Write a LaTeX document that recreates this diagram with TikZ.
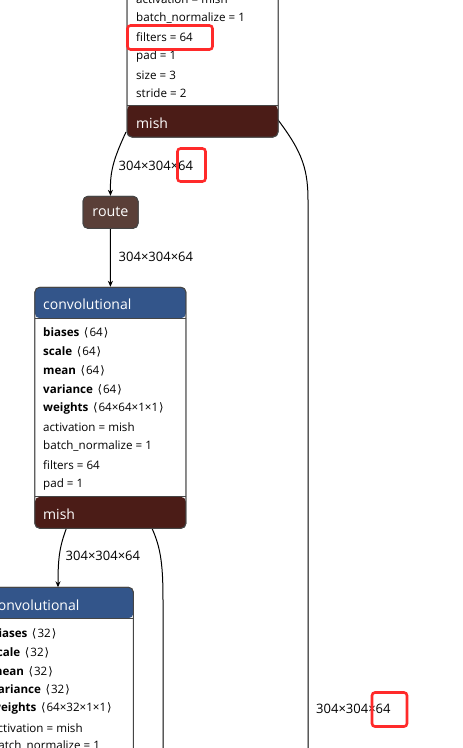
\documentclass[tikz,border=0pt]{standalone}
\usepackage{fontspec}
\setmainfont{Open Sans}
\newfontfamily\symf{DejaVu Sans}
\usetikzlibrary{arrows.meta}
\definecolor{headblue}{HTML}{33558A}
\definecolor{actred}{HTML}{4B1C17}
\definecolor{routebrown}{HTML}{5A3F38}
\definecolor{cardline}{HTML}{454545}
\definecolor{hlred}{HTML}{FF2A2A}
\newcommand{\lab}{\hspace{1.5pt}{\symf ⟨}\hspace{1pt}}
\newcommand{\rab}{\hspace{1pt}{\symf ⟩}}
\begin{document}
\begin{tikzpicture}[x=1pt,y=-1pt,
  card/.style 2 args={draw=cardline, line width=1pt, rounded corners=5pt, fill=white, inner sep=0pt, minimum width=151pt,
    path picture={
      \fill[headblue] (path picture bounding box.north west) rectangle ([yshift=-#1]path picture bounding box.north east);
      \fill[actred] ([yshift=#2]path picture bounding box.south west) rectangle (path picture bounding box.south east);
      \draw[cardline,line width=0.8pt] ([yshift=-#1]path picture bounding box.north west) -- ([yshift=-#1]path picture bounding box.north east);
      \draw[cardline,line width=0.8pt] ([yshift=#2]path picture bounding box.south west) -- ([yshift=#2]path picture bounding box.south east);
    }},
  routebox/.style={draw=cardline, line width=1pt, rounded corners=5pt, fill=routebrown, inner sep=0pt, minimum width=55pt, minimum height=32pt, text=white, font=\fontsize{14.3}{16}\selectfont},
  attr/.style={anchor=west, inner sep=0pt, text=black, font=\fontsize{11.6}{13}\selectfont},
  htext/.style={anchor=west, inner sep=0pt, text=white, font=\fontsize{14}{16}\selectfont},
  elabel/.style={anchor=west, inner sep=0pt, text=black, font=\fontsize{13}{15}\selectfont},
  edge/.style={draw=black, line width=1pt, -{Stealth[length=6pt,width=5pt]}},
  plainedge/.style={draw=black, line width=1pt},
  hl/.style={draw=hlred, line width=2.6pt, rounded corners=3pt, inner sep=0pt}
]
\useasboundingbox (0,0) rectangle (463,748);
\fill[white] (0,0) rectangle (463,748);

% free ends of connectors
\coordinate (e1end) at (308,760);
\coordinate (e2end) at (163,760);
\coordinate (t1) at (126,132);
\coordinate (t2) at (272,112);
\coordinate (c2l) at (68,524);
\coordinate (c2r) at (150,524);
\coordinate (c3in) at (58,587.3);

% node frames (positions for connectors)
\node[card={30pt}{32pt}, minimum height=197pt] (top) at (202.5,38.5) {};
\node[routebox] (route) at (110.5,212.3) {route};
\node[card={31pt}{31.5pt}, minimum height=241pt] (conv2) at (110.4,407.8) {};
\node[card={31pt}{31pt}, minimum height=313pt] (conv3) at (57.85,743.8) {};

% connectors
\draw[edge] (t1) .. controls (113,160) and (110,172) .. (route.north);
\draw[plainedge] (t2) .. controls (300,148) and (308,165) .. (308,200) -- (e1end);
\draw[edge] (route.south) -- (conv2.north);
\draw[edge] (c2l) .. controls (60,545) and (58,555) .. (c3in);
\draw[plainedge] (c2r) .. controls (160,545) and (163,560) .. (163,600) -- (e2end);

% cards drawn again over the connector starts
\node[card={30pt}{32pt}, minimum height=197pt] (topb) at (202.5,38.5) {};
\node[card={31pt}{31.5pt}, minimum height=241pt] (conv2b) at (110.4,407.8) {};
\node[card={31pt}{31pt}, minimum height=313pt] (conv3b) at (57.85,743.8) {};
\node[routebox] (routeb) at (110.5,212.3) {route};

% top card text
\node[attr] (ta1) at (136,-1) {activation = mish};
\node[attr] (ta2) at (136,17.7) {batch\_normalize = 1};
\node[attr] (ta3) at (136,36.7) {filters = 64};
\node[attr] (ta4) at (136,56) {pad = 1};
\node[attr] (ta5) at (136,75) {size = 3};
\node[attr] (ta6) at (136,93.3) {stride = 2};
\node[htext] (tf) at (136,123) {mish};

% conv2 text
\node[htext] (c2h) at (43,304) {convolutional};
\node[attr] (c2a1) at (43,333.3) {\textbf{biases} \lab 64\rab};
\node[attr] (c2a2) at (43,351.9) {\textbf{scale} \lab 64\rab};
\node[attr] (c2a3) at (43,370.7) {\textbf{mean} \lab 64\rab};
\node[attr] (c2a4) at (43,389.6) {\textbf{variance} \lab 64\rab};
\node[attr] (c2a5) at (43,408.6) {\textbf{weights} \lab 64×64×1×1\rab};
\node[attr] (c2a6) at (43,427.4) {activation = mish};
\node[attr] (c2a7) at (43,446.3) {batch\_normalize = 1};
\node[attr] (c2a8) at (43,465.3) {filters = 64};
\node[attr] (c2a9) at (43,484.3) {pad = 1};
\node[htext] (c2f) at (43,514) {mish};

% conv3 text
\node[htext] (c3h) at (-9,605) {convolutional};
\node[attr] (c3a1) at (-9,634.3) {\textbf{biases} \lab 32\rab};
\node[attr] (c3a2) at (-9,653.2) {\textbf{scale} \lab 32\rab};
\node[attr] (c3a3) at (-9,671.6) {\textbf{mean} \lab 32\rab};
\node[attr] (c3a4) at (-9,690.3) {\textbf{variance} \lab 32\rab};
\node[attr] (c3a5) at (-9,708.8) {\textbf{weights} \lab 64×32×1×1\rab};
\node[attr] (c3a6) at (-9,727.7) {activation = mish};
\node[attr] (c3a7) at (-9,746.4) {batch\_normalize = 1};

% edge labels
\node[elabel] (l1) at (118.5,166) {304×304×64};
\node[elabel] (l2) at (118.5,257) {304×304×64};
\node[elabel] (l3) at (65.5,556) {304×304×64};
\node[elabel] (l4) at (316,709) {304×304×64};

% red highlight boxes
\node[hl, minimum width=85pt, minimum height=24pt] (h1) at (170,37.5) {};
\node[hl, minimum width=28pt, minimum height=33pt] (h2) at (191.5,165) {};
\node[hl, minimum width=35pt, minimum height=34pt] (h3) at (389.5,709.5) {};
\end{tikzpicture}
\end{document}
